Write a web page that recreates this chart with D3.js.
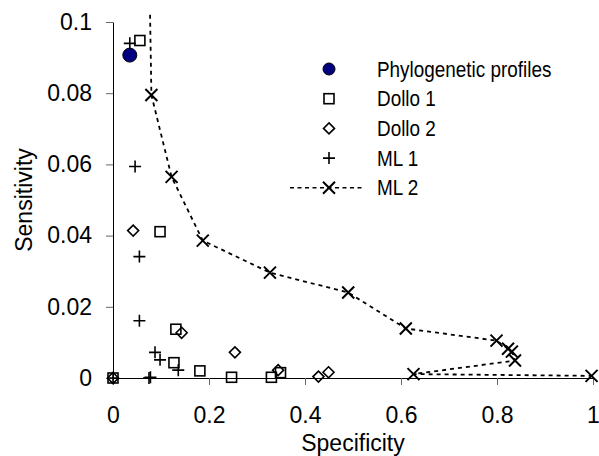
<!DOCTYPE html>
<html>
<head>
<meta charset="utf-8">
<script src="https://cdn.jsdelivr.net/npm/d3@7"></script>
<style>
  body { margin: 0; background: #fff; }
  svg text { font-family: "Liberation Sans", Arial, sans-serif; fill: #000; }
</style>
</head>
<body>
<div id="chart"></div>
<script>
// values: [specificity, sensitivity]
var phylo = [[0.035, 0.0907]];
var dollo1 = [[0, 0], [0.056, 0.0948], [0.098, 0.0411], [0.131, 0.0137], [0.127, 0.0043],
              [0.181, 0.002], [0.247, 0.0002], [0.33, 0.0002], [0.349, 0.0015]];
var dollo2 = [[0, 0], [0.042, 0.0414], [0.143, 0.0127], [0.254, 0.0072], [0.344, 0.0022],
              [0.428, 0.0004], [0.449, 0.0016]];
var ml1 = [[0, 0], [0.035, 0.094], [0.046, 0.0594], [0.055, 0.0341], [0.055, 0.0161],
           [0.0875, 0.0072], [0.098, 0.0051], [0.136, 0.0022], [0.075, 0], [0.078, 0.0002]];
// ML 2 is drawn as a line in data order (first point is off the top of the plot)
var ml2 = [[0.075, 0.12], [0.08, 0.0795], [0.122, 0.0565], [0.187, 0.0386], [0.327, 0.0296],
           [0.49, 0.024], [0.61, 0.0139], [0.799, 0.0105], [0.823, 0.0082], [0.831, 0.0074],
           [0.8375, 0.0049], [0.626, 0.0011], [0.997, 0.0006]];

var xTicks = [0, 0.2, 0.4, 0.6, 0.8, 1];
var xTickLabels = ["0", "0.2", "0.4", "0.6", "0.8", "1"];
var yTicks = [0, 0.02, 0.04, 0.06, 0.08, 0.1];
var yTickLabels = ["0", "0.02", "0.04", "0.06", "0.08", "0.1"];
var seriesNames = ["Phylogenetic profiles", "Dollo 1", "Dollo 2", "ML 1", "ML 2"];

var width = 599, height = 456;
var svg = d3.select("#chart").append("svg").attr("width", width).attr("height", height);

var xScale = d3.scaleLinear().domain([0, 1]).range([113, 593]);
var yScale = d3.scaleLinear().domain([0, 0.1]).range([378, 22]);

// clip for the plot area (Excel cuts the line at the top)
svg.append("clipPath").attr("id", "plotclip")
  .append("rect").attr("x", 100).attr("y", yScale(0.1024))
  .attr("width", 499).attr("height", 400);

// axes
var xAxis = d3.axisBottom(xScale).tickValues(xTicks)
  .tickFormat(function(d, i) { return xTickLabels[i]; })
  .tickSizeInner(7).tickSizeOuter(0).tickPadding(22);
var yAxis = d3.axisLeft(yScale).tickValues(yTicks)
  .tickFormat(function(d, i) { return yTickLabels[i]; })
  .tickSizeInner(7).tickSizeOuter(0).tickPadding(14);

var gx = svg.append("g").attr("transform", "translate(0," + yScale(0) + ")").call(xAxis);
var gy = svg.append("g").attr("transform", "translate(" + xScale(0) + ",0)").call(yAxis);
[gx, gy].forEach(function(g) {
  g.select(".domain").attr("stroke", "#000").attr("stroke-width", 1);
  g.selectAll(".tick line").attr("stroke", "#666");
  g.selectAll("text").style("font-size", "23px").attr("fill", "#000");
});

svg.append("text").attr("x", (xScale(0) + xScale(1)) / 2).attr("y", 451)
  .attr("text-anchor", "middle").style("font-size", "23px").text("Specificity");
svg.append("text")
  .attr("transform", "translate(32," + (yScale(0) + yScale(0.1)) / 2 + ") rotate(-90)")
  .attr("text-anchor", "middle").style("font-size", "23px").text("Sensitivity");

// marker shapes
var plusPath = "M-6,0H6M0,-6V6";
var xPath = "M-6,-6L6,6M-6,6L6,-6";
var diamondPath = "M0,-5.5L5.5,0L0,5.5L-5.5,0Z";

function drawSquares(g, data) {
  g.selectAll(null).data(data).enter().append("rect")
    .attr("x", function(d) { return xScale(d[0]) - 5; })
    .attr("y", function(d) { return yScale(d[1]) - 5; })
    .attr("width", 10).attr("height", 10)
    .attr("fill", "none").attr("stroke", "#000").attr("stroke-width", 1.6);
}
function drawPaths(g, data, p, sw) {
  g.selectAll(null).data(data).enter().append("path")
    .attr("transform", function(d) { return "translate(" + xScale(d[0]) + "," + yScale(d[1]) + ")"; })
    .attr("d", p).attr("fill", "none").attr("stroke", "#000").attr("stroke-width", sw);
}

var plot = svg.append("g").attr("clip-path", "url(#plotclip)");

// ML 2 dashed line
var line = d3.line().x(function(d) { return xScale(d[0]); }).y(function(d) { return yScale(d[1]); });
plot.append("path").datum(ml2).attr("d", line)
  .attr("fill", "none").attr("stroke", "#000").attr("stroke-width", 1.8)
  .attr("stroke-dasharray", "4,4");

drawSquares(plot, dollo1);
drawPaths(plot, dollo2, diamondPath, 1.6);
drawPaths(plot, ml1, plusPath, 1.6);
drawPaths(plot, ml2, xPath, 2);

plot.selectAll(null).data(phylo).enter().append("circle")
  .attr("cx", function(d) { return xScale(d[0]); })
  .attr("cy", function(d) { return yScale(d[1]); })
  .attr("r", 7).attr("fill", "#000080").attr("stroke", "#000").attr("stroke-width", 1);

// legend
var legX = 329, legY0 = 69, legStep = 29.7, legTextX = 377;
var leg = svg.append("g");
seriesNames.forEach(function(name, i) {
  var y = legY0 + i * legStep;
  var gi = leg.append("g").attr("transform", "translate(" + legX + "," + y + ")");
  if (i === 0) {
    gi.append("circle").attr("r", 6).attr("fill", "#000080").attr("stroke", "#000");
  } else if (i === 1) {
    gi.append("rect").attr("x", -5).attr("y", -5).attr("width", 10).attr("height", 10)
      .attr("fill", "none").attr("stroke", "#000").attr("stroke-width", 1.6);
  } else if (i === 2) {
    gi.append("path").attr("d", diamondPath).attr("fill", "none").attr("stroke", "#000").attr("stroke-width", 1.6);
  } else if (i === 3) {
    gi.append("path").attr("d", plusPath).attr("fill", "none").attr("stroke", "#000").attr("stroke-width", 1.6);
  } else {
    gi.append("line").attr("x1", -39).attr("x2", 36).attr("y1", 0).attr("y2", 0)
      .attr("stroke", "#000").attr("stroke-width", 1.6).attr("stroke-dasharray", "4,3.5");
    gi.append("path").attr("d", xPath).attr("fill", "none").attr("stroke", "#000").attr("stroke-width", 2);
  }
  leg.append("text")
    .attr("transform", "translate(" + legTextX + "," + (y + 7.5) + ") scale(0.86,1)")
    .style("font-size", "22px").text(name);
});
</script>
</body>
</html>
